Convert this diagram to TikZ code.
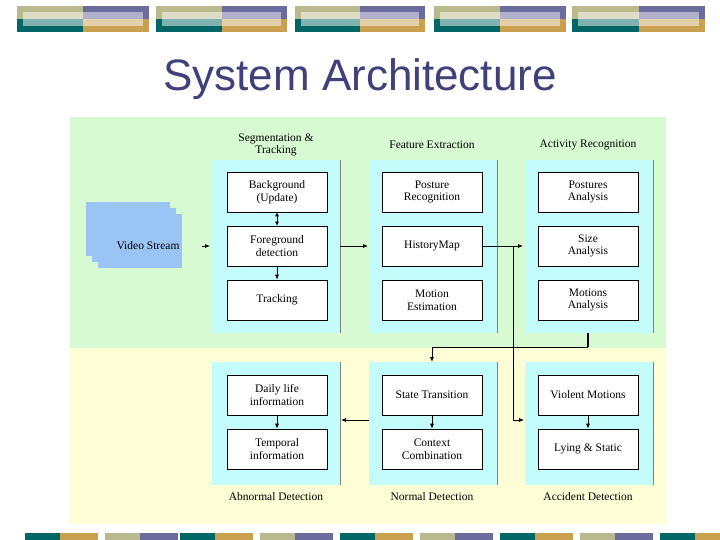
\documentclass[tikz,border=0pt]{standalone}
\usepackage{fontspec}
\setmainfont{Liberation Serif}
\newfontfamily\titlefont{Liberation Sans}
\usetikzlibrary{arrows.meta}
\definecolor{olv}{HTML}{B8B98C}\definecolor{prp}{HTML}{6B6B9E}
\definecolor{tel}{HTML}{006666}\definecolor{gld}{HTML}{C8A050}
\definecolor{olvL}{HTML}{DCDDC4}\definecolor{prpL}{HTML}{B0B0CC}
\definecolor{telL}{HTML}{80B2B2}\definecolor{gldL}{HTML}{E4D0A8}
\definecolor{grn}{HTML}{D8FAD2}\definecolor{ylw}{HTML}{FEFED6}
\definecolor{cyn}{HTML}{C4FCFC}\definecolor{vid}{HTML}{99C4F4}
\definecolor{ttl}{HTML}{40407A}
\tikzset{
 box/.style={draw=black,fill=white,line width=0.6pt,minimum width=100pt,minimum height=40pt,align=center,font=\fontsize{11.5}{12.5}\selectfont,inner sep=1pt},
 lbl/.style={align=center,font=\fontsize{11.5}{12.5}\selectfont},
 ar/.style={-{Latex[length=5pt,width=4pt]},line width=0.7pt},
 panel/.style={fill=cyn},
}
\begin{document}
\begin{tikzpicture}[x=1pt,y=-1pt]
\useasboundingbox (0,0) rectangle (720,540);
\fill[white] (0,0) rectangle (720,540);
% top banner
\foreach \x/\w in {17/132,156/131,295/130,434/132,572/133}{
 \pgfmathsetmacro\m{\x+\w/2}
 \fill[olv] (\x,6) rectangle (\m,19);
 \fill[prp] (\m,6) rectangle (\x+\w,19);
 \fill[tel] (\x,19) rectangle (\m,32);
 \fill[gld] (\m,19) rectangle (\x+\w,32);
 \fill[olvL] (\x+6,12) rectangle (\m,19);
 \fill[prpL] (\m,12) rectangle (\x+\w-6,19);
 \fill[telL] (\x+6,19) rectangle (\m,26);
 \fill[gldL] (\m,19) rectangle (\x+\w-6,26);
}
% bottom banner
\foreach \x/\a/\b in {0/tel/gld,80/olv/prp,155/tel/gld,235/olv/prp,315/tel/gld,395/olv/prp,475/tel/gld,555/olv/prp,635/tel/gld}{
 \fill[\a] (\x+25,533) rectangle (\x+60,540);
 \fill[\b] (\x+60,533) rectangle (\x+98,540);
}
\node[font=\titlefont\fontsize{44}{48}\selectfont,text=ttl] (title) at (360,79) {System Architecture};
% backgrounds
\fill[grn] (70,117) rectangle (666,348);
\fill[ylw] (70,348) rectangle (666,524);
% panels
\foreach \x in {212,369,525}{
 \fill[panel] (\x,160) rectangle (\x+128,333);
 \fill[panel] (\x,362) rectangle (\x+128,485);
 \draw[gray,line width=0.5pt] (\x+128,160) -- (\x+128,333);
 \draw[gray,line width=0.5pt] (\x+128,362) -- (\x+128,485);
}
% headers
\node[lbl] (h1) at (276,145) {Segmentation \&\\Tracking};
\node[lbl] (h2) at (432,145) {Feature Extraction};
\node[lbl] (h3) at (588,145) {Activity Recognition};
\node[lbl] (f1) at (276,497) {Abnormal Detection};
\node[lbl] (f2) at (432,497) {Normal Detection};
\node[lbl] (f3) at (588,497) {Accident Detection};
% video stream
\foreach \d in {0,6,12}{
 \fill[vid] (86+\d,202+\d) rectangle (170+\d,256+\d);
}
\node[lbl,anchor=east] (vs) at (183,246) {Video Stream};
% boxes
\node[box] (bg) at (277,192) {Background\\(Update)};
\node[box] (fg) at (277,246) {Foreground\\detection};
\node[box] (tr) at (277,300) {Tracking};
\node[box] (pr) at (432,192) {Posture\\Recognition};
\node[box] (hm) at (432,246) {HistoryMap};
\node[box] (me) at (432,300) {Motion\\Estimation};
\node[box] (pa) at (588,192) {Postures\\Analysis};
\node[box] (sa) at (588,246) {Size\\Analysis};
\node[box] (ma) at (588,300) {Motions\\Analysis};
\node[box] (dl) at (277,395) {Daily life\\information};
\node[box] (ti) at (277,449) {Temporal\\information};
\node[box] (st) at (432,395) {State Transition};
\node[box] (cc) at (432,449) {Context\\Combination};
\node[box] (vm) at (588,395) {Violent Motions};
\node[box] (ls) at (588,449) {Lying \& Static};
% coordinates
\coordinate (v1) at (202,246); \coordinate (v2) at (210,246);
\coordinate (c1r) at (340,246); \coordinate (c2l) at (368,246);
\coordinate (j1) at (513,246); \coordinate (c3l) at (523,246);
\coordinate (j2) at (513,347); \coordinate (j3) at (513,420); \coordinate (c3b) at (524,420);
\coordinate (m1) at (588,333); \coordinate (m2) at (588,347);
\coordinate (n1) at (432,347); \coordinate (n2) at (432,362);
\coordinate (nl) at (369,420); \coordinate (ar1) at (341,420);
% connectors
\draw[ar] (v1) -- (v2);
\draw[{Latex[length=4pt,width=4pt]}-{Latex[length=4pt,width=4pt]},line width=0.7pt] (bg) -- (fg);
\draw[ar] (fg) -- (tr);
\draw[ar] (c1r) -- (c2l);
\draw[line width=0.7pt] (hm) -- (j1);
\draw[ar] (j1) -- (c3l);
\draw[ar] (j1) -- (j3) -- (c3b);
\draw[line width=2pt] (m1) -- (m2);
\draw[ar,line width=1pt] (m2) -- (n1) -- (n2);
\draw[ar] (nl) -- (ar1);
\draw[ar] (dl) -- (ti);
\draw[ar] (st) -- (cc);
\draw[ar] (vm) -- (ls);
\end{tikzpicture}
\end{document}
